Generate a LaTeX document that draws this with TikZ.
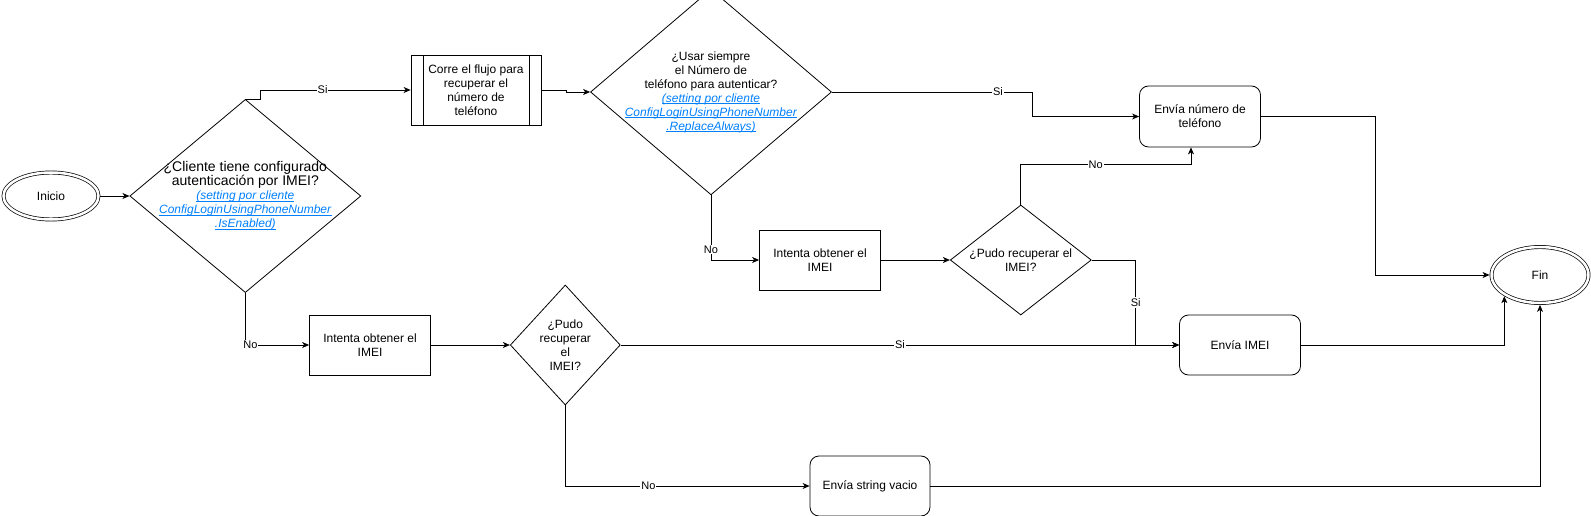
\documentclass[tikz,border=0pt]{standalone}
\usepackage{fontspec}
\setmainfont{Liberation Sans}
\usetikzlibrary{arrows.meta,positioning,shapes.geometric}
\definecolor{linkblue}{RGB}{0,127,255}
\newcommand{\cfg}[1]{\textcolor{linkblue}{\underline{\smash{\textit{#1}}}}\vphantom{g}}
\newcommand{\pregunta}[1]{{\fontsize{14}{16}\selectfont #1}}

\begin{document}
\begin{tikzpicture}[
  x=1pt, y=-1pt,
  font=\fontsize{12}{14}\selectfont,
  startend/.style={ellipse, draw, double, double distance=2.5pt, line width=0.7pt, inner sep=0pt, outer sep=1.95pt},
  decision/.style={diamond, draw, line width=0.8pt, inner sep=-12pt, align=center},
  proc/.style={rectangle, draw, line width=0.8pt, minimum width=121pt, minimum height=60pt, align=center},
  subproc/.style={proc, minimum width=130pt, minimum height=70pt, path picture={
      \draw[line width=0.8pt] ([xshift=12pt]path picture bounding box.north west) -- ([xshift=12pt]path picture bounding box.south west);
      \draw[line width=0.8pt] ([xshift=-12pt]path picture bounding box.north east) -- ([xshift=-12pt]path picture bounding box.south east);}},
  term/.style={proc, rounded corners=9pt},
  lbl/.style={fill=white, inner sep=1pt, font=\fontsize{11}{13}\selectfont},
  arr/.style={-{Stealth[length=7pt, width=6pt, inset=2pt]}, line width=0.8pt}
]
  \useasboundingbox (0,0) rectangle (1591,516);

  % --- start and first question ---
  \node[startend, minimum width=95pt, minimum height=47pt] (inicio) at (51,196) {Inicio};
  \node[decision, minimum width=231pt, minimum height=190pt, right=29pt of inicio] (d1)
    {\pregunta{¿Cliente tiene configurado}\\\pregunta{autenticación por IMEI?}\\\cfg{(setting por cliente}\\\cfg{ConfigLoginUsingPhoneNumber}\\\cfg{.IsEnabled)}};

  % --- phone number branch (top) ---
  \node[subproc] (corre) at (476,90) {Corre el flujo para\\recuperar el\\número de\\teléfono};
  \node[decision, minimum width=241pt, minimum height=184pt] (d2) at (711,92)
    {¿Usar siempre\\el Número de\\teléfono para autenticar?\\\cfg{(setting por cliente}\\\cfg{ConfigLoginUsingPhoneNumber}\\\cfg{.ReplaceAlways)}};
  \node[term, minimum height=61pt] (envnum) at (1200,116.5) {Envía número de\\teléfono};

  \node[proc] (int1) at (820,260) {Intenta obtener el\\IMEI};
  \node[decision, minimum width=141pt, minimum height=110pt, right=69pt of int1] (d3) {¿Pudo recuperar el\\IMEI?};

  % --- IMEI branch (bottom) ---
  \node[proc] (int2) at (370,345) {Intenta obtener el\\IMEI};
  \node[decision, minimum width=110pt, minimum height=120pt, right=79pt of int2] (d4) {¿Pudo\\recuperar\\el\\IMEI?};
  \node[term] (envimei) at (1240,345) {Envía IMEI};
  \node[term, minimum width=120pt] (envstr) at (870,486) {Envía string vacio};

  % --- end ---
  \node[startend, minimum width=97pt, minimum height=56pt] (fin) at (1540,275) {Fin};

  % connectors
  \draw[arr] (inicio) -- (d1);
  \draw[arr] (d1.north) -- ++(15,0) |- node[lbl, pos=0.707] {Si} (corre.west);
  \draw[arr] (corre.east) -- ++(25,0) |- (d2.west);
  \draw[arr] (d2.east) -- node[lbl, pos=0.83] {Si} ++(200,0) |- (envnum.west);
  \draw[arr] (d2.south) |- node[lbl, pos=0.42] {No} (int1.west);
  \draw[arr] (int1) -- (d3);
  \draw[arr] (d3.north) -- ++(0,-40) -| node[lbl, pos=0.22] {No} ([xshift=-9pt]envnum.south);
  \draw[arr] (d3.east) -- ++(44,0) |- node[lbl, pos=0.25] {Si} (envimei.west);
  \draw[arr] (envnum.east) -- ++(114,0) |- (fin.west);

  \draw[arr] (d1.south) |- node[lbl, pos=0.54] {No} (int2.west);
  \draw[arr] (int2) -- (d4);
  \draw[arr] (d4.east) -- node[lbl] {Si} (envimei.west);
  \draw[arr] (d4.south) |- node[lbl, pos=0.67] {No} (envstr.west);
  \draw[arr] (envimei.east) -| (fin.south west);
  \draw[arr] (envstr.east) -| (fin.south);
\end{tikzpicture}
\end{document}
